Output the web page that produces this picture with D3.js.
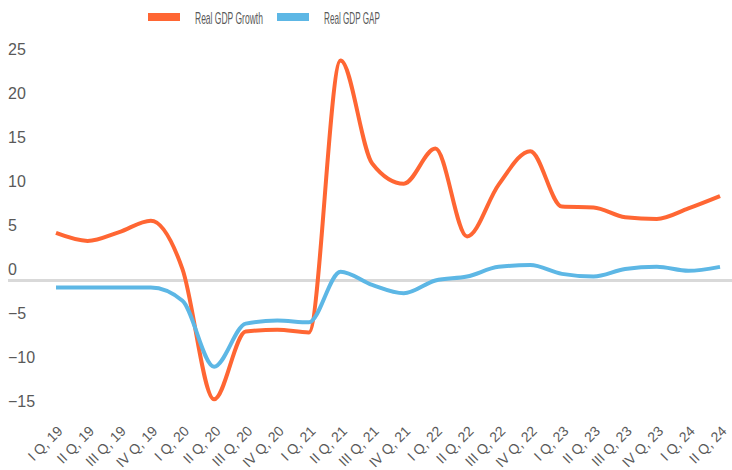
<!DOCTYPE html>
<html>
<head>
<meta charset="utf-8">
<script src="https://cdn.jsdelivr.net/npm/d3@7"></script>
<style>
  html, body { margin: 0; padding: 0; background: #fff; }
  svg { display: block; }
  text { font-family: "Liberation Sans Narrow", "DejaVu Sans Condensed", sans-serif; fill: #595959; }
</style>
</head>
<body>
<svg id="chart" width="732" height="470"></svg>
<script>
const quarters = ["I Q, 19","II Q, 19","III Q, 19","IV Q, 19","I Q, 20","II Q, 20","III Q, 20","IV Q, 20",
  "I Q, 21","II Q, 21","III Q, 21","IV Q, 21","I Q, 22","II Q, 22","III Q, 22","IV Q, 22",
  "I Q, 23","II Q, 23","III Q, 23","IV Q, 23","I Q, 24","II Q, 24"];
const growth = [5.4, 4.5, 5.5, 6.8, 1.3, -13.5, -5.8, -5.6, -5.9, 25.0, 13.3, 11.0,
  15.0, 5.0, 10.9, 14.7, 8.4, 8.3, 7.2, 7.0, 8.2, 9.6];
const gap = [-0.8, -0.8, -0.8, -0.8, -2.3, -9.8, -4.9, -4.55, -4.75, 1.0, -0.5, -1.45,
  0.0, 0.45, 1.55, 1.75, 0.75, 0.45, 1.3, 1.55, 1.1, 1.55];
const yTicks = [25, 20, 15, 10, 5, 0, -5, -10, -15];
const seriesNames = ["Real GDP Growth", "Real GDP GAP"];
const seriesColors = ["#ff6633", "#5db7e5"];

const svg = d3.select("#chart");

const x = d3.scalePoint().domain(quarters).range([56, 720]);
const y = d3.scaleLinear().domain([-15, 25]).range([412.5, 60.5]);

// y tick labels (placed above their value)
const yAxis = d3.axisLeft(y).tickValues(yTicks).tickSize(0).tickFormat(d3.format("d"));
const gy = svg.append("g").call(yAxis);
gy.select(".domain").remove();
gy.selectAll("text")
  .attr("x", 8)
  .attr("dy", null)
  .attr("y", -6)
  .attr("text-anchor", "start")
  .style("font-size", "16px")
  .style("font-family", "'Liberation Sans Narrow', sans-serif")
  .attr("fill", "#595959");

// zero line
svg.append("line")
  .attr("x1", 8).attr("x2", 732)
  .attr("y1", y(0)).attr("y2", y(0))
  .attr("stroke", "#d9d9d9").attr("stroke-width", 3);

// x axis labels
const xAxis = d3.axisBottom(x).tickSize(0);
const gx = svg.append("g").call(xAxis);
gx.select(".domain").remove();
gx.selectAll(".tick text")
  .attr("y", 0).attr("dy", null)
  .attr("text-anchor", "end")
  .attr("transform", "translate(7,432) rotate(-45)")
  .style("font-size", "14px")
  .style("font-family", "'Liberation Sans Narrow', sans-serif")
  .attr("fill", "#595959");

// lines
const line = d3.line()
  .x((d, i) => x(quarters[i]))
  .y(d => y(d))
  .curve(d3.curveMonotoneX);

const seriesData = [growth, gap];
seriesData.forEach((s, k) => {
  svg.append("path")
    .datum(s)
    .attr("d", line)
    .attr("fill", "none")
    .attr("stroke", seriesColors[k])
    .attr("stroke-width", 4)
    .attr("stroke-linejoin", "round")
    .attr("stroke-linecap", "butt");
});

// legend (condensed text scaled to the reference width)
const legendPos = [{sx: 148, tx: 195, tw: 68}, {sx: 277, tx: 324, tw: 56}];
seriesNames.forEach((name, k) => {
  svg.append("rect")
    .attr("x", legendPos[k].sx).attr("y", 13)
    .attr("width", 32).attr("height", 8)
    .attr("fill", seriesColors[k]);
  const g = svg.append("g");
  const t = g.append("text")
    .attr("x", 0).attr("y", 0)
    .style("font-size", "16px")
    .style("font-family", "'Liberation Sans Narrow', sans-serif")
    .attr("fill", "#505050")
    .text(name);
  const w = t.node().getComputedTextLength();
  g.attr("transform", `translate(${legendPos[k].tx},23.5) scale(${legendPos[k].tw / w},1)`);
});
</script>
</body>
</html>
